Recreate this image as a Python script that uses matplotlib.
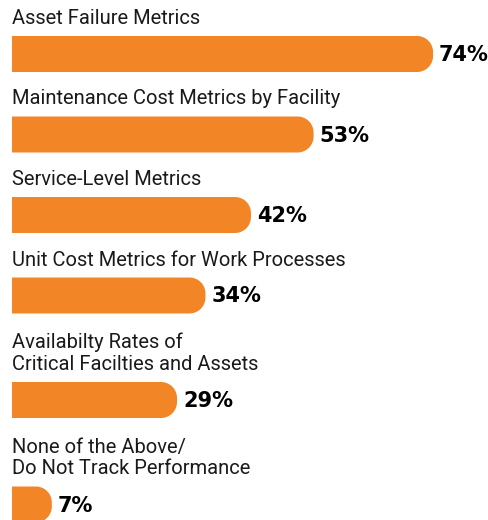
import numpy as np
import matplotlib
matplotlib.use("Agg")
import matplotlib.pyplot as plt
from matplotlib.patches import Polygon

labels = [
    "Asset Failure Metrics",
    "Maintenance Cost Metrics by Facility",
    "Service-Level Metrics",
    "Unit Cost Metrics for Work Processes",
    "Availabilty Rates of\nCritical Facilties and Assets",
    "None of the Above/\nDo Not Track Performance",
]
values = [74, 53, 42, 34, 29, 7]
pct_labels = ["74%", "53%", "42%", "34%", "29%", "7%"]

orange = "#F28627"
bar_h = 36          # px
line_h = 24         # px per extra label line
pitch = 80.5        # px between bars with one-line labels
px_per_pct = 5.69
corner = 16         # px radius of right-hand corners

fig = plt.figure(figsize=(4.89, 5.2), dpi=100)
ax = fig.add_axes([0, 0, 1, 1])
ax.set_xlim(-12 / px_per_pct, 477 / px_per_pct)
ax.set_ylim(520, 0)
ax.axis("off")

# bar centres, stacked downward, extra room for two-line labels
centers = []
c = 54
for i, lab in enumerate(labels):
    if i > 0:
        c += pitch + line_h * (lab.count("\n"))
    centers.append(c)
centers = np.array(centers)


def bar_outline(v, y):
    # square left end, rounded right corners (circular on screen)
    rx = corner / px_per_pct
    top, bot = y - bar_h / 2, y + bar_h / 2
    t = np.linspace(0, np.pi / 2, 20)
    # top-right corner: from (v-rx, top) to (v, top+corner)
    tr = np.column_stack([v - rx + rx * np.sin(t), top + corner - corner * np.cos(t)])
    # bottom-right corner: from (v, bot-corner) to (v-rx, bot)
    br = np.column_stack([v - rx + rx * np.cos(t), bot - corner + corner * np.sin(t)])
    pts = np.vstack([[[0, top]], tr, br, [[0, bot]]])
    return pts


for y, v in zip(centers, values):
    ax.add_patch(Polygon(bar_outline(v, y), closed=True,
                         facecolor=orange, edgecolor="none"))

for y, v, lab, pl in zip(centers, values, labels, pct_labels):
    ax.text(0, y - bar_h / 2 - 12, lab, ha="left", va="baseline",
            fontsize=14.5, family=["Roboto", "DejaVu Sans"],
            color="#1a1a1a", linespacing=1.2)
    ax.text(v + 6 / px_per_pct, y + 1, pl, ha="left", va="center",
            fontsize=15, fontweight="bold", family="DejaVu Sans",
            color="black")

fig.savefig("out.png", dpi=100)
